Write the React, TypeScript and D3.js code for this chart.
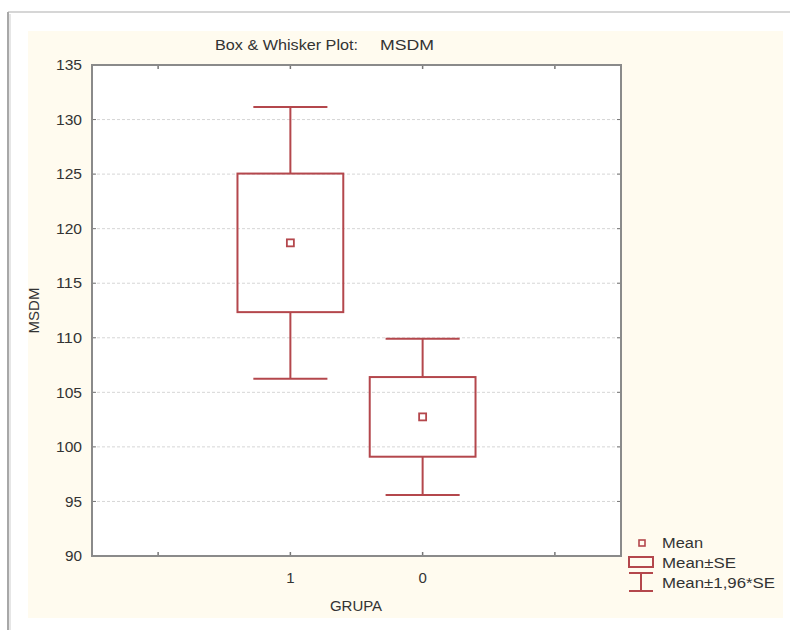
import React from "react";
import * as d3 from "d3";

const categories = ["1", "0"];
const means = [118.7, 102.75];
const seValues = [6.35, 3.65];
const ciFactor = 1.96;
const yTicks = [90, 95, 100, 105, 110, 115, 120, 125, 130, 135];
const xTickSlots = [-1, 0, 1, 2];
const legendLabels = ["Mean", "Mean\u00B1SE", "Mean\u00B11,96*SE"];

const W = 790;
const H = 630;
const plot = { left: 92, right: 621, top: 65, bottom: 556 };
const RED = "#b4474c";
const TEXT = "#333333";
const FONT = "'Liberation Sans', Arial, sans-serif";

export default function App() {
  const x = d3.scaleLinear().domain([-1.5, 2.5]).range([plot.left, plot.right]);
  const y = d3.scaleLinear().domain([90, 135]).range([plot.bottom, plot.top]);
  const boxHalf = 0.4;
  const capHalf = 0.28;

  return (
    <svg
      width={W}
      height={H}
      style={{ position: "absolute", left: 0, top: 0, display: "block" }}
      fontFamily={FONT}
    >
      <rect x={0} y={0} width={W} height={H} fill="#ffffff" />
      {/* outer frame */}
      <line x1={8} y1={12} x2={W} y2={12} stroke="#c8c8c8" strokeWidth={1.5} />
      <line x1={8} y1={12} x2={8} y2={H} stroke="#a8a8a8" strokeWidth={2} />
      <line x1={10} y1={14} x2={10} y2={H} stroke="#e6e6e6" strokeWidth={2} />
      {/* cream panel */}
      <rect x={28} y={31} width={755} height={587} fill="#fffbef" />
      {/* plot area */}
      <rect
        x={plot.left}
        y={plot.top}
        width={plot.right - plot.left}
        height={plot.bottom - plot.top}
        fill="#ffffff"
      />
      {/* gridlines */}
      {yTicks
        .filter((t) => t > 90 && t < 135)
        .map((t) => (
          <line
            key={"g" + t}
            x1={plot.left}
            x2={plot.right}
            y1={y(t)}
            y2={y(t)}
            stroke="#d6d6d6"
            strokeWidth={1}
            strokeDasharray="3,2"
          />
        ))}
      {/* ticks */}
      {yTicks.map((t) => (
        <g key={"yt" + t}>
          <line x1={plot.left} x2={plot.left + 4} y1={y(t)} y2={y(t)} stroke="#777" />
          <line x1={plot.right - 4} x2={plot.right} y1={y(t)} y2={y(t)} stroke="#777" />
          <text
            x={plot.left - 10}
            y={y(t)}
            dy="0.35em"
            textAnchor="end"
            fontSize={15}
            fill={TEXT}
            textLength={t >= 100 ? 26 : 17}
            lengthAdjust="spacingAndGlyphs"
          >
            {t}
          </text>
        </g>
      ))}
      {xTickSlots.map((s) => (
        <g key={"xt" + s}>
          <line x1={x(s)} x2={x(s)} y1={plot.top} y2={plot.top + 4} stroke="#777" strokeWidth={1.5} />
          <line x1={x(s)} x2={x(s)} y1={plot.bottom - 4} y2={plot.bottom} stroke="#777" strokeWidth={1.5} />
        </g>
      ))}
      {categories.map((c, i) => (
        <text
          key={"xl" + c}
          x={x(i)}
          y={plot.bottom + 27}
          textAnchor="middle"
          fontSize={15}
          fill={TEXT}
        >
          {c}
        </text>
      ))}
      {/* boxes */}
      {categories.map((c, i) => {
        const m = means[i];
        const se = seValues[i];
        const lo = m - ciFactor * se;
        const hi = m + ciFactor * se;
        const cx = x(i);
        const bx0 = x(i - boxHalf);
        const bx1 = x(i + boxHalf);
        const cx0 = x(i - capHalf);
        const cx1 = x(i + capHalf);
        return (
          <g key={"b" + c} stroke={RED} strokeWidth={2} fill="none">
            <line x1={cx} x2={cx} y1={y(hi)} y2={y(m + se)} />
            <line x1={cx} x2={cx} y1={y(m - se)} y2={y(lo)} />
            <line x1={cx0} x2={cx1} y1={y(hi)} y2={y(hi)} />
            <line x1={cx0} x2={cx1} y1={y(lo)} y2={y(lo)} />
            <rect x={bx0} y={y(m + se)} width={bx1 - bx0} height={y(m - se) - y(m + se)} />
            <rect x={cx - 3.5} y={y(m) - 3.5} width={7} height={7} fill="#fff" strokeWidth={1.8} />
          </g>
        );
      })}
      {/* plot border */}
      <rect
        x={plot.left}
        y={plot.top}
        width={plot.right - plot.left}
        height={plot.bottom - plot.top}
        fill="none"
        stroke="#8a8a8a"
        strokeWidth={2}
      />
      {/* title */}
      <text x={215} y={50} fontSize={14.5} fill={TEXT} textLength={143} lengthAdjust="spacingAndGlyphs">
        Box &amp; Whisker Plot:
      </text>
      <text x={380} y={50} fontSize={14.5} fill={TEXT} textLength={54} lengthAdjust="spacingAndGlyphs">
        MSDM
      </text>
      {/* axis titles */}
      <text
        transform={`translate(39,${(plot.top + plot.bottom) / 2}) rotate(-90)`}
        textAnchor="middle"
        fontSize={15}
        fill={TEXT}
      >
        MSDM
      </text>
      <text x={356} y={611} textAnchor="middle" fontSize={15} fill={TEXT}>
        GRUPA
      </text>
      {/* legend */}
      <g stroke={RED} fill="none" strokeWidth={2}>
        <rect x={639} y={540} width={6} height={6} strokeWidth={1.6} />
        <rect x={629} y={557} width={24} height={10} />
        <line x1={629} x2={653} y1={573} y2={573} />
        <line x1={641} x2={641} y1={573} y2={591} />
        <line x1={629} x2={653} y1={591} y2={591} />
      </g>
      <text x={662} y={548} fontSize={15.5} fill={TEXT} textLength={41} lengthAdjust="spacingAndGlyphs">
        {legendLabels[0]}
      </text>
      <text x={662} y={568} fontSize={15.5} fill={TEXT} textLength={74} lengthAdjust="spacingAndGlyphs">
        {legendLabels[1]}
      </text>
      <text x={662} y={588} fontSize={15.5} fill={TEXT} textLength={113} lengthAdjust="spacingAndGlyphs">
        {legendLabels[2]}
      </text>
    </svg>
  );
}
